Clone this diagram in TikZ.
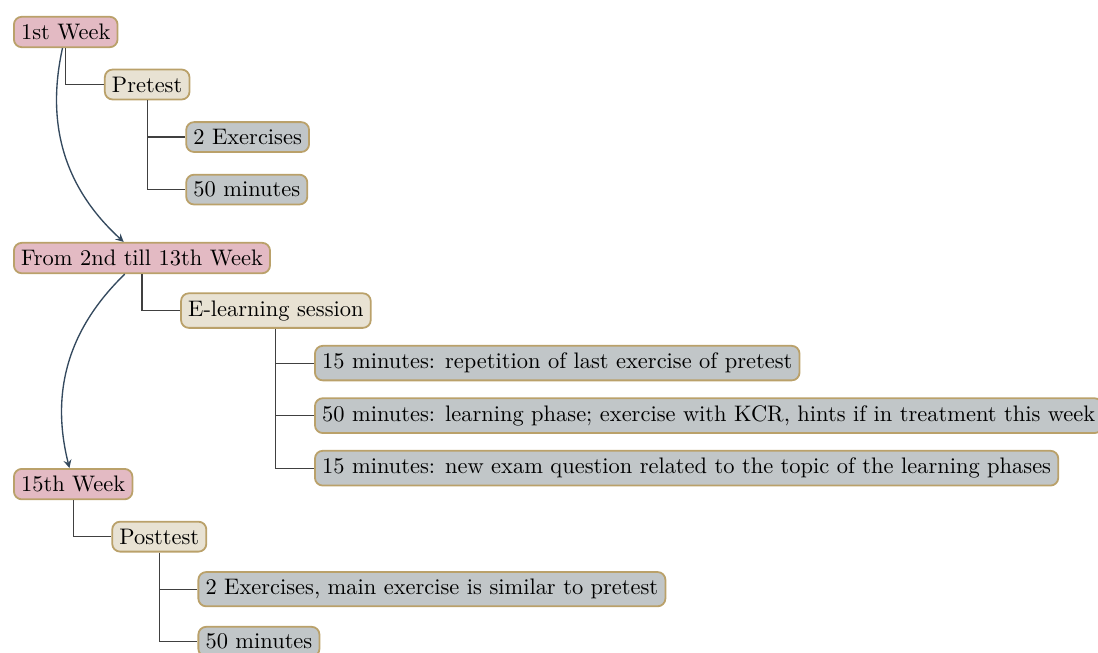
\documentclass[tikz,border=0pt]{standalone}
\usepackage{tikz}
\usetikzlibrary{positioning,arrows,calc}
\definecolor{wkfill}{RGB}{227,186,195}
\definecolor{tfill}{RGB}{232,226,211}
\definecolor{ifill}{RGB}{193,198,200}
\definecolor{bordc}{RGB}{186,161,106}
\definecolor{arrc}{RGB}{52,73,94}
\tikzstyle{wkbox}=[rectangle, rounded corners=3.5pt, draw=bordc, fill=wkfill, thick,
                    inner sep=3.2pt, anchor=west]
\tikzstyle{tbox}=[rectangle, rounded corners=3.5pt, draw=bordc, fill=tfill, thick,
                    inner sep=3.2pt, anchor=west]
\tikzstyle{ibox}=[rectangle, rounded corners=3.5pt, draw=bordc, fill=ifill, thick,
                    inner sep=3.2pt, anchor=west]
\tikzstyle{pline}=[-, draw=black!75, line width=0.5pt]
\tikzstyle{parr}=[-stealth, draw=arrc, semithick]
\begin{document}
\begin{tikzpicture}

\node (W1) [wkbox] at (0,0) {1st Week};
\useasboundingbox ($(W1.west)+(-5.8pt,14.25pt)$) rectangle ($(W1.west)+(483.3pt,-276.6pt)$);

\node (PRE) [tbox] at ($(W1)+(17pt,-23.4pt)$) {Pretest};
\node (PREEX) [ibox] at ($(PRE)+(17pt,-23.4pt)$) {2 Exercises};
\node (PREMIN) [ibox] at ($(PRE)+(17pt,-46.8pt)$) {50 minutes};

\node (W2) [wkbox] at ($(W1.west)+(0,-100.7pt)$) {From 2nd till 13th Week};
\node (ELS) [tbox] at ($(W2)+(17pt,-23.4pt)$) {E-learning session};
\node (REP) [ibox] at ($(ELS)+(17pt,-23.4pt)$) {15 minutes: repetition of last exercise of pretest};
\node (LRN) [ibox] at ($(ELS)+(17pt,-46.8pt)$) {50 minutes: learning phase; exercise with KCR, hints if in treatment this week};
\node (EXQ) [ibox] at ($(ELS)+(17pt,-70.2pt)$) {15 minutes: new exam question related to the topic of the learning phases};

\node (W15) [wkbox] at ($(W2.west)+(0,-100.7pt)$) {15th Week};
\node (POST) [tbox] at ($(W15)+(17pt,-23.4pt)$) {Posttest};
\node (POSTEX) [ibox] at ($(POST)+(17pt,-23.4pt)$) {2 Exercises, main exercise is similar to pretest};
\node (POSTMIN) [ibox] at ($(POST)+(17pt,-46.8pt)$) {50 minutes};

 \draw[pline]   (W1.south) |- (PRE.west) ;
 \draw[pline]   (PRE.south) |- (PREEX.west) ;
 \draw[pline]   (PRE.south) |- (PREMIN.west) ;
 \draw[pline]   (W2.south) |- (ELS.west) ;
 \draw[pline]   (ELS.south) |- (REP.west) ;
 \draw[pline]   (ELS.south) |- (LRN.west) ;
 \draw[pline]   (ELS.south) |- (EXQ.west) ;
 \draw[pline]   (W15.south) |- (POST.west) ;
 \draw[pline]   (POST.south) |- (POSTEX.west) ;
 \draw[pline]   (POST.south) |- (POSTMIN.west) ;

 \draw[parr]    (W1) to[bend right] (W2) ;
 \draw[parr]    (W2) to[bend right] (W15) ;

\end{tikzpicture}
\end{document}
